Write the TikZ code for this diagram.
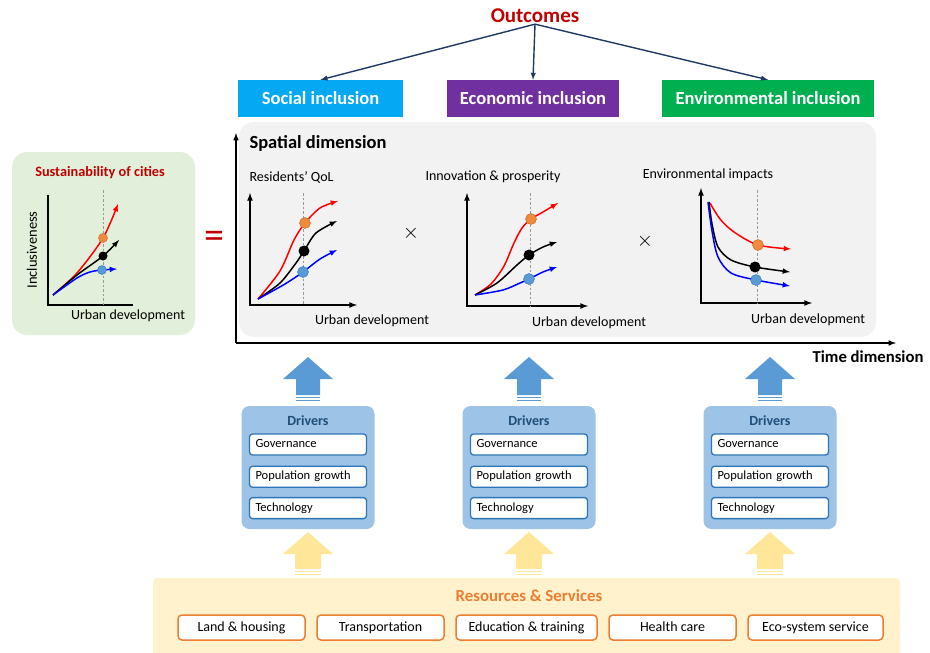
\documentclass[tikz,border=0pt]{standalone}
\usepackage{fontspec}
\setmainfont{Carlito}
\usetikzlibrary{positioning}

\definecolor{outred}{HTML}{C00000}
\definecolor{navy}{HTML}{1F3864}
\definecolor{socblue}{HTML}{05A8F2}
\definecolor{ecopurple}{HTML}{7030A0}
\definecolor{envgreen}{HTML}{00B050}
\definecolor{spatgray}{HTML}{F2F2F2}
\definecolor{greenfill}{HTML}{E2EFDA}
\definecolor{drvfill}{HTML}{9DC3E6}
\definecolor{drvline}{HTML}{2E75B6}
\definecolor{drvtext}{HTML}{1F4E79}
\definecolor{blockblue}{HTML}{5B9BD5}
\definecolor{blockyellow}{HTML}{FFE699}
\definecolor{resfill}{HTML}{FFF2CC}
\definecolor{resorange}{HTML}{ED7D31}
\definecolor{dotorange}{HTML}{F08A3C}
\definecolor{dotblue}{HTML}{5B9BD5}

\begin{document}
\begin{tikzpicture}[x=1pt,y=-1pt,>=latex,
  font=\fontsize{14}{17}\selectfont,
  catbox/.style={minimum height=37,inner sep=0,text=white,
    font=\fontsize{18.5}{22}\selectfont\bfseries},
  itembox/.style={draw=drvline,fill=white,line width=1.3,rounded corners=3,
    minimum height=21,text width=105,inner xsep=6,inner ysep=0,align=left,
    text height=9,text depth=3,font=\fontsize{12.5}{15}\selectfont},
  resitem/.style={draw=resorange,fill=white,line width=1.5,rounded corners=4,
    minimum height=25,inner sep=0,text height=10,text depth=3},
  axis/.style={line width=1.6},
  guide/.style={gray!80,dash pattern=on 2.5pt off 2pt,line width=0.5},
  curve/.style={line width=1.5,->}]
\useasboundingbox (0,0) rectangle (930,653);

% outcomes
\node [text=outred,font=\fontsize{21}{24}\selectfont\bfseries,inner sep=1] (outc) at (535,16) {Outcomes};
\node [catbox,fill=socblue,minimum width=165] (soc) at (320.5,98.5) {Social inclusion};
\node [catbox,fill=ecopurple,minimum width=172] (eco) at (533,98.5) {Economic inclusion};
\node [catbox,fill=envgreen,minimum width=212] (env) at (768,98.5) {Environmental inclusion};
\draw [->,navy,line width=1.4] (outc.south) -- (soc.north);
\draw [->,navy,line width=1.4] (outc.south) -- (eco.north);
\draw [->,navy,line width=1.4] (outc.south) -- (env.north);

% sustainability of cities
\fill [greenfill,rounded corners=15] (12,152) rectangle (195,335);
\node [text=outred,font=\fontsize{14.3}{17}\selectfont\bfseries] (sus) at (100,173) {Sustainability of cities};
\draw [axis] (48,195) -- (48,305) -- (133,305);
\draw [guide] (103,190) -- (103,305);
\draw [curve,red] plot[smooth] coordinates {(53,295) (77,273) (103,238) (118,204)};
\draw [curve,black] plot[smooth] coordinates {(53,295) (77,275) (103,256) (119,240)};
\draw [curve,blue] plot[smooth] coordinates {(53,295) (77,278) (90,272) (102,270) (117,269)};
\filldraw [fill=dotorange,draw=resorange!80!black,line width=0.4] (103,238) circle (4.5);
\fill [black] (103,256) circle (4.5);
\filldraw [fill=dotblue,draw=drvline,line width=0.4] (102,270) circle (4.5);
\node [rotate=90,font=\fontsize{14.5}{17}\selectfont] (incl) at (32,250) {Inclusiveness};
\node (ud0) at (128,316) {Urban development};
\node [text=outred,font=\fontsize{40}{40}\selectfont] (eq) at (214,240) {=};

% spatial dimension
\fill [spatgray,rounded corners=15] (239,122) rectangle (876,337);
\coordinate (org) at (236,343);
\coordinate (ttop) at (236,133);
\coordinate (tend) at (896,343);
\draw [->,line width=1.5] (org) -- (ttop);
\draw [->,line width=1.5] (org) -- (tend);
\node [anchor=west,font=\fontsize{18.5}{22}\selectfont\bfseries] (spat) at (246,143) {Spatial dimension};
\node [anchor=east,font=\fontsize{16.7}{20}\selectfont\bfseries] (time) at (927,357) {Time dimension};

% residents' QoL
\node [anchor=west] (qol) at (246,177) {Residents’ QoL};
\draw [axis,<->] (250,193) -- (250,305) -- (357,305);
\draw [guide] (303,193) -- (303,305);
\draw [curve,red] plot[smooth] coordinates {(258,299) (280,271) (294,240) (305,223) (320,208) (338,201)};
\draw [curve,black] plot[smooth] coordinates {(258,299) (280,283) (296,263) (304,251) (316,233) (337,221)};
\draw [curve,blue] plot[smooth] coordinates {(258,299) (285,284) (303,272) (320,259) (337,250)};
\filldraw [fill=dotorange,draw=resorange!80!black,line width=0.4] (305,223) circle (5.5);
\fill [black] (304,251) circle (5.5);
\filldraw [fill=dotblue,draw=drvline,line width=0.4] (303,272) circle (5.5);
\node (ud1) at (372,321) {Urban development};
\node [font=\fontsize{22}{22}\selectfont] (x1) at (411,233) {$\times$};

% innovation & prosperity
\node (inno) at (493,177) {Innovation \& prosperity};
\draw [axis,<->] (467,193) -- (467,306) -- (588,306);
\draw [guide] (530,193) -- (530,306);
\draw [curve,red] plot[smooth] coordinates {(475,295) (491,284) (504,266) (514,243) (522,228) (531,219) (543,212) (558,203)};
\draw [curve,black] plot[smooth] coordinates {(475,295) (497,283) (517,265) (529,255) (543,247) (557,242)};
\draw [curve,blue] plot[smooth] coordinates {(475,295) (503,290) (520,283) (529,279) (543,272) (557,267)};
\filldraw [fill=dotorange,draw=resorange!80!black,line width=0.4] (531,219) circle (5.5);
\fill [black] (529,255) circle (5.5);
\filldraw [fill=dotblue,draw=drvline,line width=0.4] (529,279) circle (5.5);
\node (ud2) at (589,323) {Urban development};
\node [font=\fontsize{22}{22}\selectfont] (x2) at (645,241) {$\times$};

% environmental impacts
\node (envi) at (708,175) {Environmental impacts};
\draw [axis,<->] (701,188) -- (701,303) -- (812,303);
\draw [guide] (757,190) -- (757,303);
\draw [curve,red] plot[smooth] coordinates {(710,203) (720,219) (734,232) (758,245) (791,249)};
\draw [curve,black] plot[smooth] coordinates {(709,202) (712,224) (718,247) (731,260) (755,267) (790,272)};
\draw [curve,blue] plot[smooth] coordinates {(708,202) (712,231) (718,257) (731,273) (756,280) (790,286)};
\filldraw [fill=dotorange,draw=resorange!80!black,line width=0.4] (758,245) circle (5.5);
\fill [black] (755,267) circle (5.5);
\filldraw [fill=dotblue,draw=drvline,line width=0.4] (756,280) circle (5.5);
\node (ud3) at (808,320) {Urban development};

% drivers
\foreach \n/\x in {1/308,2/529,3/770} {
  \fill [blockblue] (\x,357) -- (\x+25,379) -- (\x+12,379) -- (\x+12,395) -- (\x-12,395)
    -- (\x-12,379) -- (\x-25,379) -- cycle;
  \fill [blockblue] (\x-12,396.5) rectangle (\x+12,398);
  \fill [blockblue] (\x-12,399.5) rectangle (\x+12,401);
  \node [fill=drvfill,rounded corners=8,minimum width=133,minimum height=123] (drv\n) at (\x,467.5) {};
  \node [text=drvtext,font=\fontsize{14}{17}\selectfont\bfseries] (drvt\n) at (\x,421) {Drivers};
  \node [itembox] (gov\n) at (\x,444.5) {Governance};
  \node [itembox,below=10pt of gov\n] (pop\n) {Population growth};
  \node [itembox,below=9pt of pop\n] (tech\n) {Technology};
  \fill [blockyellow] (\x,532) -- (\x+25,554) -- (\x+13,554) -- (\x+13,569) -- (\x-13,569)
    -- (\x-13,554) -- (\x-25,554) -- cycle;
  \fill [blockyellow] (\x-13,570.5) rectangle (\x+13,572);
  \fill [blockyellow] (\x-13,573.5) rectangle (\x+13,575);
}

% resources & services
\fill [resfill,rounded corners=4] (153,578) rectangle (900,656);
\node [text=resorange,font=\fontsize{16.8}{20}\selectfont\bfseries] (res) at (529,596) {Resources \& Services};
\node [resitem,minimum width=127] (land) at (241.5,627.5) {Land \& housing};
\node [resitem,minimum width=127] (trans) at (380.5,627.5) {Transportation};
\node [resitem,minimum width=141] (edu) at (526.5,627.5) {Education \& training};
\node [resitem,minimum width=127] (health) at (672.5,627.5) {Health care};
\node [resitem,minimum width=135] (ecos) at (815.5,627.5) {Eco-system service};
\end{tikzpicture}
\end{document}
